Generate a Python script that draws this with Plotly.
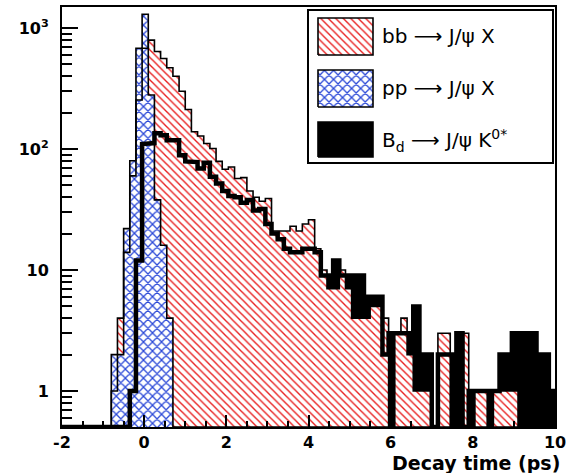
import math
import plotly.graph_objects as go

# ---------------- data (histograms, 80 bins from -2 to 10 ps) ----------------
BIN_LO, BIN_HI, NBINS = -2.0, 10.0, 80

bb_jpsi_x = [0, 0, 0, 0, 0, 0, 0, 0,
             1, 4, 14, 60, 254, 680, 795, 640, 560, 470, 400, 300,
             212, 139, 128, 111, 101, 79, 68, 71, 57, 58,
             45, 40, 37, 39, 21, 21, 21, 23, 21, 24,
             26, 15, 10, 7, 7, 10, 7, 4, 4, 4,
             5, 5, 4, 0, 3, 4, 2, 1, 1, 1,
             0, 3, 3, 0, 0, 3, 0, 1, 1, 0,
             1, 1, 1, 1, 0, 0, 0, 0, 0, 0]

pp_jpsi_x = [0, 0, 0, 0, 0, 0, 0, 0,
             2, 2, 22, 80, 680, 1300, 280, 38, 16, 4] + [0] * 62

bd_jpsi_kstar = [0, 0, 0, 0, 0, 0, 0, 0, 0, 0,
                 0, 1, 12, 110, 112, 135, 130, 118, 118, 89,
                 79, 78, 69, 77, 59, 52, 45, 41, 40, 36,
                 38, 31, 32, 24, 20, 18, 15, 14, 14, 15,
                 15, 14, 9, 9, 12, 9, 9, 9, 9, 6,
                 6, 6, 2, 3, 3, 3, 3, 5, 2, 2,
                 0, 2, 2, 2, 3, 0, 1, 1, 1, 1,
                 1, 2, 2, 3, 3, 3, 3, 2, 2, 1]

x_tickvals = [-2, 0, 2, 4, 6, 8, 10]
x_ticktext = ["-2", "0", "2", "4", "6", "8", "10"]
y_tickvals = [1, 10, 100, 1000]
y_ticktext = ["1", "10", "10<sup>2</sup>", "10<sup>3</sup>"]
legend_labels = ["bb \u27f6 J/\u03c8 X", "pp \u27f6 J/\u03c8 X",
                 "B<sub>d</sub> \u27f6 J/\u03c8 K<sup>0*</sup>"]
x_title = "Decay time (ps)"

Y_MIN, Y_MAX = 0.504, 1493.0

# ---------------- styles ----------------
W, H = 566, 473
ML, MR, MT, MB = 62, 11, 7, 46
FONT = "DejaVu Sans"
RED = "rgb(232,30,30)"
BLUE = "rgb(40,70,215)"
red_pat = dict(shape="\\", fgcolor=RED, bgcolor="white", size=5.3, solidity=0.26, fillmode="replace")
blue_pat = dict(shape="x", fgcolor=BLUE, bgcolor="white", size=6.4, solidity=0.36, fillmode="replace")

edges = [BIN_LO + (BIN_HI - BIN_LO) * i / NBINS for i in range(NBINS + 1)]


def steps(vals):
    xs, ys = [edges[0]], [Y_MIN]
    for i, v in enumerate(vals):
        h = max(v, Y_MIN)
        xs += [edges[i], edges[i + 1]]
        ys += [h, h]
    xs.append(edges[-1])
    ys.append(Y_MIN)
    return xs, ys


def fill_trace(vals, **kw):
    xs, ys = steps(vals)
    return go.Scatter(x=xs, y=ys, mode="lines", fill="toself",
                      line=dict(width=0, color="rgba(0,0,0,0)"),
                      hoverinfo="skip", showlegend=False, **kw)


def line_trace(vals, width):
    xs, ys = steps(vals)
    return go.Scatter(x=xs, y=ys, mode="lines", line=dict(color="black", width=width),
                      hoverinfo="skip", showlegend=False)


fig = go.Figure()
fig.add_trace(fill_trace(bd_jpsi_kstar, fillcolor="black"))
fig.add_trace(fill_trace(bb_jpsi_x, fillcolor="white", fillpattern=red_pat))
fig.add_trace(fill_trace(pp_jpsi_x, fillcolor="white", fillpattern=blue_pat))
fig.add_trace(line_trace(bb_jpsi_x, 1.6))
fig.add_trace(line_trace(pp_jpsi_x, 1.6))
fig.add_trace(line_trace(bd_jpsi_kstar, 4.5))


# ---------------- legend (drawn by hand, ROOT style) ----------------
def px(xp):
    return (xp - ML) / (W - ML - MR)


def py(yp):
    return (H - MB - yp) / (H - MT - MB)


swatches = [((318, 373, 18, 55), dict(fillcolor="white", fillpattern=red_pat), 1.6),
            ((318, 373, 70, 107), dict(fillcolor="white", fillpattern=blue_pat), 1.6),
            ((318, 373, 122, 157), dict(fillcolor="black"), 1.6)]
for (x0, x1, y0, y1), fk, lw in swatches:
    fig.add_trace(go.Scatter(x=[px(x0), px(x1), px(x1), px(x0), px(x0)],
                             y=[py(y1), py(y1), py(y0), py(y0), py(y1)],
                             xaxis="x2", yaxis="y2", mode="lines", fill="toself",
                             line=dict(color="black", width=lw), hoverinfo="skip",
                             showlegend=False, **fk))

fig.add_shape(type="rect", xref="paper", yref="paper", x0=px(308), x1=px(553),
              y0=py(163), y1=py(10), line=dict(color="black", width=2),
              fillcolor="white", layer="below")

for lab, yc in zip(legend_labels, [36, 88, 140]):
    fig.add_annotation(text=lab, xref="paper", yref="paper", x=px(380), y=py(yc),
                       xanchor="left", yanchor="middle", showarrow=False,
                       font=dict(family=FONT, size=20, color="black"))

fig.add_annotation(text=x_title, xref="paper", yref="paper", x=px(562), y=py(463.5),
                   xanchor="right", yanchor="middle", showarrow=False,
                   font=dict(family=FONT, size=19, color="black", weight="bold"))

y_minor = [m * 10 ** e for e in range(-1, 4) for m in range(2, 10)
           if Y_MIN < m * 10 ** e < Y_MAX]

fig.update_layout(
    width=W, height=H, margin=dict(l=ML, r=MR, t=MT, b=MB, autoexpand=False),
    paper_bgcolor="white", plot_bgcolor="white", showlegend=False,
    xaxis=dict(range=[BIN_LO, BIN_HI], tickmode="array", tickvals=x_tickvals,
               ticktext=x_ticktext, ticks="inside", ticklen=12, tickwidth=1.5,
               tickcolor="black", showline=True, linecolor="black", linewidth=2,
               mirror=True, showgrid=False, zeroline=False, ticklabelstandoff=0,
               ticklabeloverflow="allow", automargin=False,
               tickfont=dict(family=FONT, size=16, color="black", weight="bold"),
               minor=dict(tick0=BIN_LO, dtick=0.5, ticks="inside", ticklen=6,
                          tickwidth=1.5, tickcolor="black", showgrid=False)),
    yaxis=dict(type="log", range=[math.log10(Y_MIN), math.log10(Y_MAX)],
               tickmode="array", tickvals=y_tickvals, ticktext=y_ticktext,
               ticks="inside", ticklen=16, tickwidth=1.5, tickcolor="black",
               showline=True, linecolor="black", linewidth=2, mirror=True,
               showgrid=False, zeroline=False, ticklabelstandoff=8, automargin=False,
               tickfont=dict(family=FONT, size=16, color="black", weight="bold"),
               minor=dict(tickmode="array", tickvals=y_minor, ticks="inside",
                          ticklen=10, tickwidth=1.5, tickcolor="black", showgrid=False)),
    xaxis2=dict(overlaying="x", range=[0, 1], visible=False, fixedrange=True),
    yaxis2=dict(overlaying="y", range=[0, 1], visible=False, fixedrange=True),
)

fig.write_html("out.html")
